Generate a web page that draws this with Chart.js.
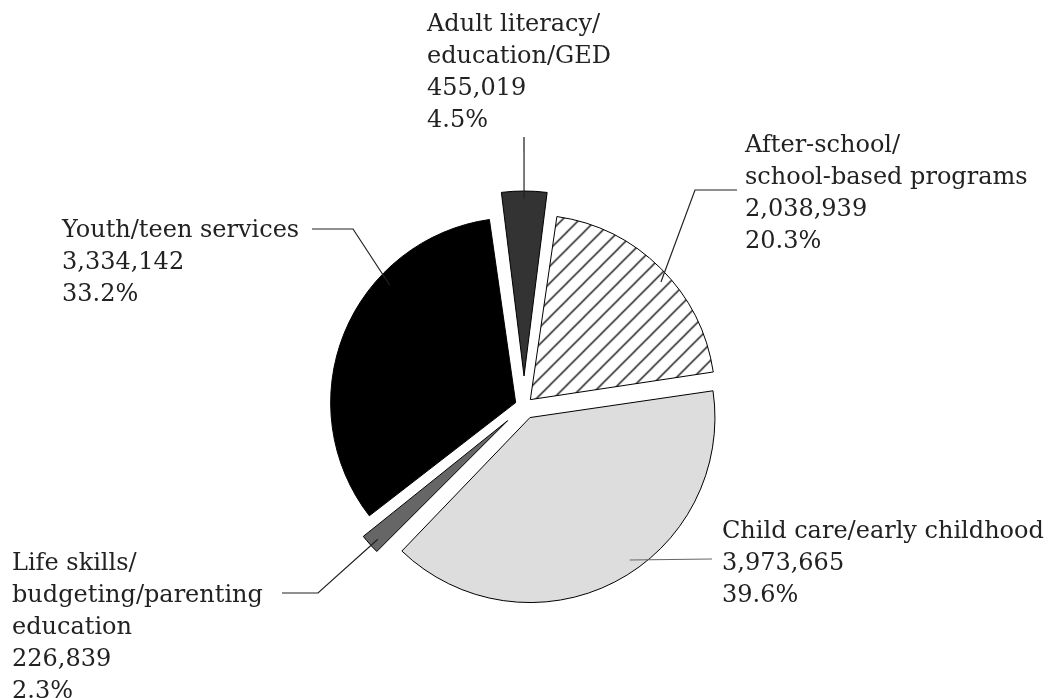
<!DOCTYPE html>
<html>
<head>
<meta charset="utf-8">
<script src="https://cdn.jsdelivr.net/npm/chart.js@4.4.1/dist/chart.umd.min.js"></script>
<style>
  html, body { margin: 0; padding: 0; background: #fff; }
  #wrap { width: 1058px; height: 698px; }
</style>
</head>
<body>
<div id="wrap"><canvas id="pie"></canvas></div>
<script>
// service categories, clockwise from 12 o'clock
const categories = [
  'Adult literacy/education/GED',
  'After-school/school-based programs',
  'Child care/early childhood',
  'Life skills/budgeting/parenting education',
  'Youth/teen services'
];
const participants = [455019, 2038939, 3973665, 226839, 3334142];
const percentLabels = ['4.5%', '20.3%', '39.6%', '2.3%', '33.2%'];

// how the figure breaks each category name
const labelLines = [
  ['Adult literacy/', 'education/GED'],
  ['After-school/', 'school-based programs'],
  ['Child care/early childhood'],
  ['Life skills/', 'budgeting/parenting', 'education'],
  ['Youth/teen services']
];

const RADIUS = 185;
// how far each slice is pulled out, in px
const explode = [30, 9, 13, 22, 9];

// hatch for the after-school slice
function makeHatch(s) {
  const c = document.createElement('canvas');
  c.width = s; c.height = s;
  const g = c.getContext('2d');
  g.fillStyle = '#fff';
  g.fillRect(0, 0, s, s);
  g.strokeStyle = '#000';
  g.lineWidth = 1.3;
  g.beginPath();
  g.moveTo(-1, s + 1); g.lineTo(s + 1, -1);
  g.moveTo(-1, 1); g.lineTo(1, -1);
  g.moveTo(s - 1, s + 1); g.lineTo(s + 1, s - 1);
  g.stroke();
  return g.createPattern(c, 'repeat');
}

const ctx0 = document.getElementById('pie').getContext('2d');
const fills = ['#333333', makeHatch(17), '#dddddd', '#666666', '#000000'];

// label placement: text left/first baseline, leader start (deg clockwise from top, fraction of radius), bends
const labelSpots = [
  { x: 427, y: 31, ang: 0, rf: 0.96, path: [[524, 137]] },
  { x: 745, y: 152, ang: 48, rf: 0.95, path: [[695, 190], [737, 190]] },
  { x: 722, y: 538, ang: 145, rf: 0.94, path: [[712, 559]], color: '#666' },
  { x: 12, y: 570, ang: 227.6, rf: 0.95, path: [[318, 593], [282, 593]] },
  { x: 62, y: 237, ang: 313, rf: 0.93, path: [[353, 229], [312, 229]] }
];

// chart.js moves an arc by offset/4 and also grows its radius; keep the radius fixed
const keepRadius = {
  id: 'keepRadius',
  beforeDatasetsDraw(chart) {
    chart.getDatasetMeta(0).data.forEach((arc, i) => {
      const circ = arc.circumference;
      const fix = 1 - Math.sin(Math.min(Math.PI, circ || 0));
      arc.outerRadius = RADIUS - explode[i] * fix;
    });
  }
};

const calloutPlugin = {
  id: 'callouts',
  afterDatasetsDraw(chart) {
    const g = chart.ctx;
    const arcs = chart.getDatasetMeta(0).data;
    g.save();
    arcs.forEach((arc, i) => {
      const spot = labelSpots[i];
      const mid = (arc.startAngle + arc.endAngle) / 2;
      const cx = arc.x + Math.cos(mid) * explode[i];
      const cy = arc.y + Math.sin(mid) * explode[i];
      const a = (spot.ang - 90) * Math.PI / 180;
      const r = RADIUS * spot.rf;
      g.beginPath();
      g.moveTo(cx + r * Math.cos(a), cy + r * Math.sin(a));
      spot.path.forEach(pt => g.lineTo(pt[0], pt[1]));
      g.strokeStyle = spot.color || '#222';
      g.lineWidth = 1.2;
      g.stroke();

      const lines = labelLines[i].concat([participants[i].toLocaleString('en-US'), percentLabels[i]]);
      g.fillStyle = '#222';
      g.font = '24px "DejaVu Serif"';
      g.textAlign = 'left';
      g.textBaseline = 'alphabetic';
      lines.forEach((t, k) => g.fillText(t, spot.x, spot.y + k * 32));
    });
    g.restore();
  }
};

new Chart(ctx0, {
  type: 'pie',
  data: {
    labels: categories,
    datasets: [{
      data: participants,
      backgroundColor: fills,
      borderColor: '#000',
      borderWidth: 1,
      offset: explode.map(v => v * 4),
      radius: RADIUS
    }]
  },
  options: {
    responsive: true,
    maintainAspectRatio: false,
    animation: false,
    rotation: -8.1,
    layout: { padding: { left: 0, right: 10, top: 114, bottom: 0 } },
    plugins: {
      legend: { display: false },
      tooltip: { enabled: false }
    }
  },
  plugins: [keepRadius, calloutPlugin]
});
</script>
</body>
</html>
